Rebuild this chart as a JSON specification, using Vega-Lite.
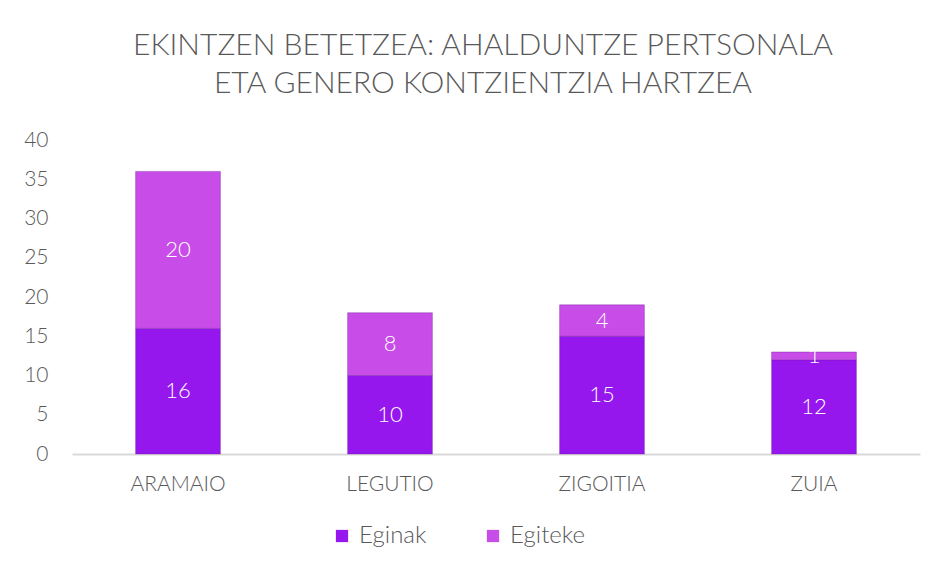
{
  "$schema": "https://vega.github.io/schema/vega-lite/v6.json",
  "width": 848,
  "height": 314,
  "autosize": "none",
  "padding": {"left": 72, "top": 140, "right": 19, "bottom": 118},
  "background": "white",
  "config": {
    "view": {"stroke": null}
  },
  "title": {
    "text": ["EKINTZEN BETETZEA: AHALDUNTZE PERTSONALA", "ETA GENERO KONTZIENTZIA HARTZEA"],
    "font": "Lato",
    "fontSize": 30,
    "fontWeight": 300,
    "color": "#595959",
    "lineHeight": 38,
    "anchor": "middle",
    "offset": 30,
    "dx": -13
  },
  "data": {
    "values": [
      {"herria": "ARAMAIO", "mota": "Eginak", "balioa": 16},
      {"herria": "ARAMAIO", "mota": "Egiteke", "balioa": 20},
      {"herria": "LEGUTIO", "mota": "Eginak", "balioa": 10},
      {"herria": "LEGUTIO", "mota": "Egiteke", "balioa": 8},
      {"herria": "ZIGOITIA", "mota": "Eginak", "balioa": 15},
      {"herria": "ZIGOITIA", "mota": "Egiteke", "balioa": 4},
      {"herria": "ZUIA", "mota": "Eginak", "balioa": 12},
      {"herria": "ZUIA", "mota": "Egiteke", "balioa": 1}
    ]
  },
  "transform": [
    {"calculate": "datum.mota === 'Eginak' ? 0 : 1", "as": "ordena"},
    {"stack": "balioa", "groupby": ["herria"], "sort": [{"field": "ordena", "order": "ascending"}], "as": ["y0", "y1"]},
    {"calculate": "(datum.y0 + datum.y1) / 2", "as": "ymid"}
  ],
  "encoding": {
    "x": {
      "field": "herria",
      "type": "nominal",
      "sort": ["ARAMAIO", "LEGUTIO", "ZIGOITIA", "ZUIA"],
      "title": null,
      "scale": {"paddingInner": 0.6, "paddingOuter": 0.3},
      "axis": {
        "labelAngle": 0,
        "labelFont": "Lato",
        "labelFontSize": 21,
        "labelFontWeight": 300,
        "labelColor": "#595959",
        "labelPadding": 19,
        "ticks": false,
        "domainColor": "#d9d9d9",
        "domainWidth": 2,
        "grid": false
      }
    },
    "y": {
      "field": "y0",
      "type": "quantitative",
      "scale": {"domain": [0, 40]},
      "title": null,
      "axis": {
        "values": [0, 5, 10, 15, 20, 25, 30, 35, 40],
        "labelOverlap": false,
        "labelFont": "Lato",
        "labelFontSize": 21,
        "labelFontWeight": 300,
        "labelColor": "#595959",
        "labelPadding": 24,
        "ticks": false,
        "domain": false,
        "grid": false
      }
    }
  },
  "layer": [
    {
      "mark": {"type": "bar", "stroke": "#6a1a9a", "strokeWidth": 0.6, "strokeOpacity": 0.6},
      "encoding": {
        "y2": {"field": "y1"},
        "color": {
          "field": "mota",
          "type": "nominal",
          "sort": ["Eginak", "Egiteke"],
          "scale": {"domain": ["Eginak", "Egiteke"], "range": ["#9616ee", "#c84ce8"]},
          "legend": {
            "title": null,
            "orient": "none",
            "direction": "horizontal",
            "legendX": 258,
            "legendY": 384,
            "symbolType": "square",
            "symbolSize": 150,
            "symbolStrokeWidth": 0,
            "labelFont": "Lato",
            "labelFontSize": 24,
            "labelFontWeight": 300,
            "labelColor": "#595959",
            "labelOffset": 5,
            "columnPadding": 54
          }
        }
      }
    },
    {
      "mark": {"type": "text", "color": "white", "font": "Lato", "fontSize": 22, "fontWeight": 300, "baseline": "middle"},
      "encoding": {
        "y": {"field": "ymid", "type": "quantitative"},
        "text": {"field": "balioa", "type": "quantitative"}
      }
    }
  ]
}
